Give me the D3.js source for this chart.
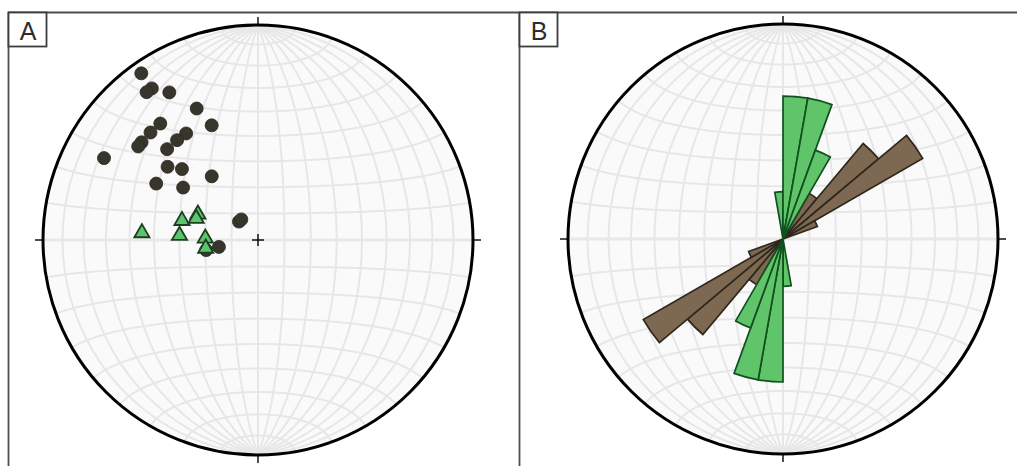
<!DOCTYPE html>
<html>
<head>
<meta charset="utf-8">
<script src="https://cdn.jsdelivr.net/npm/d3@7"></script>
<style>
  html, body { margin: 0; padding: 0; background: #fff; }
  svg { display: block; }
</style>
</head>
<body>
<svg id="chart" width="1017" height="466"></svg>
<script>
// Poles to bedding: trend / plunge (degrees), lower hemisphere
const poleTrend  = [325, 325, 323, 329, 335, 338, 320, 315, 310, 308, 326, 321, 315, 298, 309, 313, 324, 299, 305, 314, 321, 260, 259];
const polePlunge = [  6,  15,  15,  21,  33,  42,  30,  30,  30,  30,  40,  40,  40,  20,  45,  50,  60,  45,  55,  80,  80,  75,  70];

// Lineations: trend / plunge (degrees)
const lineTrend  = [274, 285, 274, 294, 290, 273, 262];
const linePlunge = [ 45,  60,  60,  65,  65,  70,  70];

// Rose diagram: 10-degree bins (start azimuth) and radial value (fraction of net radius)
const binWidth = 10;
const greenBinStart = [350, 0, 10, 20];
const greenBinValue = [0.22, 0.665, 0.665, 0.44];
const brownBinStart = [30, 40, 50, 60];
const brownBinValue = [0.245, 0.58, 0.75, 0.17];

const panelLabels = ["A", "B"];

const svg = d3.select("#chart");
const R = 215;
const nets = [{cx: 258, cy: 240}, {cx: 783, cy: 239}];

// Panel frames
const frame = svg.append("g").attr("fill", "none").attr("stroke", "#4d4d4d").attr("stroke-width", 1.8);
frame.append("line").attr("x1", 8).attr("y1", 12.5).attr("x2", 1017).attr("y2", 12.5);
frame.append("line").attr("x1", 8.5).attr("y1", 12).attr("x2", 8.5).attr("y2", 466);
frame.append("line").attr("x1", 519.5).attr("y1", 12).attr("x2", 519.5).attr("y2", 466);

const rad = d => d * Math.PI / 180;
const deg = r => r * 180 / Math.PI;

// Convert a line (trend, plunge) into net coordinates [lambda, phi]
function lineToGeo(trend, plunge) {
  const t = rad(trend), p = rad(plunge);
  const phi = Math.asin(Math.cos(p) * Math.cos(t));
  const lam = Math.atan2(Math.cos(p) * Math.sin(t), Math.sin(p));
  return [deg(lam), deg(phi)];
}

function drawNet(g, cx, cy) {
  const projection = d3.geoAzimuthalEqualArea()
    .rotate([0, 0])
    .scale(R / Math.SQRT2)
    .translate([cx, cy])
    .precision(0.1);
  const path = d3.geoPath(projection);

  g.append("circle").attr("cx", cx).attr("cy", cy).attr("r", R).attr("fill", "#fafafa");

  const graticule = d3.geoGraticule()
    .extent([[-90, -90], [90.0001, 90.0001]])
    .step([10, 10])
    .precision(1);

  g.append("g")
    .attr("fill", "none")
    .attr("stroke", "#e7e7e7")
    .attr("stroke-width", 2)
    .selectAll("path")
    .data(graticule.lines())
    .join("path")
    .attr("d", path);

  // Equator
  g.append("path")
    .datum({type: "LineString", coordinates: d3.range(-90, 90.5, 1).map(l => [l, 0])})
    .attr("d", path)
    .attr("fill", "none")
    .attr("stroke", "#e8e8e8")
    .attr("stroke-width", 3.2);

  // Primitive circle
  g.append("circle").attr("cx", cx).attr("cy", cy).attr("r", R)
    .attr("fill", "none").attr("stroke", "#000").attr("stroke-width", 3);

  // Cardinal ticks
  const ticks = [[0, -1], [0, 1], [-1, 0], [1, 0]];
  g.append("g").attr("stroke", "#000").attr("stroke-width", 1.4)
    .selectAll("line").data(ticks).join("line")
    .attr("x1", d => cx + d[0] * R).attr("y1", d => cy + d[1] * R)
    .attr("x2", d => cx + d[0] * (R + 8)).attr("y2", d => cy + d[1] * (R + 8));

  return projection;
}

// ---- Panel A: stereonet with poles and lineations ----
const gA = svg.append("g");
const projA = drawNet(gA, nets[0].cx, nets[0].cy);

// Centre cross
gA.append("g").attr("stroke", "#000").attr("stroke-width", 1.4)
  .call(s => {
    s.append("line").attr("x1", nets[0].cx - 6).attr("x2", nets[0].cx + 6).attr("y1", nets[0].cy).attr("y2", nets[0].cy);
    s.append("line").attr("y1", nets[0].cy - 6).attr("y2", nets[0].cy + 6).attr("x1", nets[0].cx).attr("x2", nets[0].cx);
  });

const poles = poleTrend.map((t, i) => projA(lineToGeo(t, polePlunge[i])));
gA.append("g").selectAll("circle").data(poles).join("circle")
  .attr("cx", d => d[0]).attr("cy", d => d[1]).attr("r", 6.5)
  .attr("fill", "#38362c").attr("stroke", "#2a2920").attr("stroke-width", 0.8);

const lines = lineTrend.map((t, i) => projA(lineToGeo(t, linePlunge[i])));
const tri = d3.symbol().type(d3.symbolTriangle).size(100);
gA.append("g").selectAll("path").data(lines).join("path")
  .attr("transform", d => `translate(${d[0]},${d[1] + 1})`)
  .attr("d", tri)
  .attr("fill", "#5cc46a").attr("stroke", "#1c3f22").attr("stroke-width", 1.8)
  .attr("stroke-linejoin", "miter");

// ---- Panel B: rose diagram on the net ----
const gB = svg.append("g");
drawNet(gB, nets[1].cx, nets[1].cy);

const rScale = d3.scaleLinear().domain([0, 1]).range([0, R]);
const arc = d3.arc()
  .innerRadius(0)
  .outerRadius(d => rScale(d.v))
  .startAngle(d => rad(d.a))
  .endAngle(d => rad(d.a + binWidth));

function bidirectional(starts, values) {
  const out = [];
  starts.forEach((a, i) => {
    out.push({a: a, v: values[i]});
    out.push({a: a + 180, v: values[i]});
  });
  return out;
}

const roseG = gB.append("g").attr("transform", `translate(${nets[1].cx},${nets[1].cy})`);
roseG.append("g").selectAll("path").data(bidirectional(brownBinStart, brownBinValue)).join("path")
  .attr("d", arc).attr("fill", "#7d6951").attr("stroke", "#30271d").attr("stroke-width", 1.7)
  .attr("stroke-linejoin", "miter");
roseG.append("g").selectAll("path").data(bidirectional(greenBinStart, greenBinValue)).join("path")
  .attr("d", arc).attr("fill", "#60c46b").attr("stroke", "#11501f").attr("stroke-width", 1.7)
  .attr("stroke-linejoin", "miter");

// Panel labels
const labelBoxes = [{x: 8.5, y: 12.5}, {x: 519.5, y: 12.5}];
const lab = svg.append("g").selectAll("g").data(panelLabels).join("g")
  .attr("transform", (d, i) => `translate(${labelBoxes[i].x},${labelBoxes[i].y})`);
lab.append("rect").attr("width", 38).attr("height", 34)
  .attr("fill", "#fff").attr("stroke", "#3d3d3d").attr("stroke-width", 1.8);
lab.append("text").text(d => d)
  .attr("x", 19.5).attr("y", 27)
  .attr("text-anchor", "middle")
  .attr("font-family", "'Liberation Sans', Arial, sans-serif")
  .attr("font-size", 25)
  .attr("fill", "#2e2e2e");
</script>
</body>
</html>
